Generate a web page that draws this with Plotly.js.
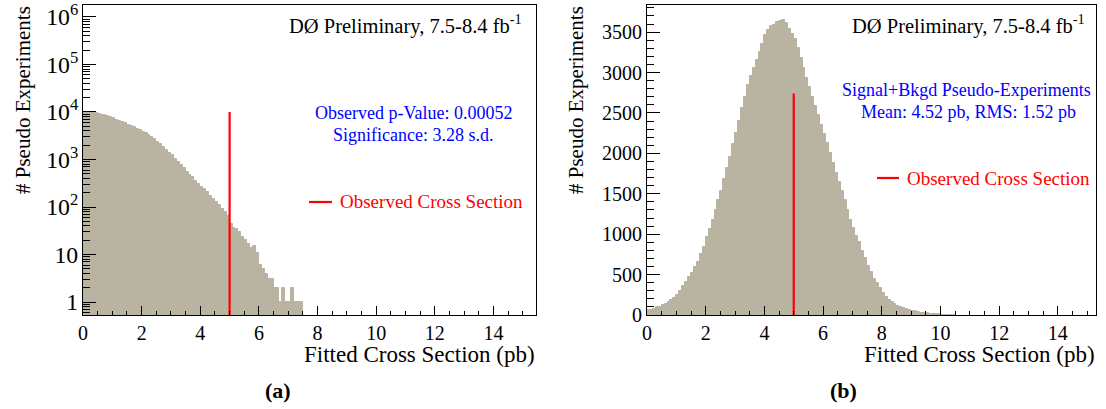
<!DOCTYPE html>
<html>
<head>
<meta charset="utf-8">
<script src="https://cdn.plot.ly/plotly-3.0.1.min.js"></script>
</head>
<body style="margin:0">
<div id="plot"></div>
<script>
// Bin width of the histograms (pb), first bin starts at 0
const binWidth = 0.1;

// (a) background-only pseudo-experiments, counts per 0.1 pb bin from 0
const bkgCounts = [
  9600, 9550, 9500, 9400, 9300, 9100, 8800, 8500, 8100, 7700,
  7300, 6900, 6500, 6100, 5750, 5400, 5100, 4750, 4450, 4100,
  3800, 3550, 3250, 2950, 2650, 2350, 2100, 1850, 1600, 1400,
  1220, 1050, 900, 780, 660, 560, 480, 420, 360, 310,
  270, 240, 205, 175, 150, 125, 108, 92, 80, 66,
  45, 36, 34, 30, 24, 20, 17, 14, 15, 11,
  6, 5, 4, 3, 3, 2, 2, 1, 2, 1,
  1, 2, 1, 1, 1
];

// (b) signal+background pseudo-experiments, counts per 0.1 pb bin from 0
const sbCounts = [
  60, 68, 80, 95, 105, 120, 135, 160, 180, 205,
  250, 300, 360, 410, 470, 520, 590, 660, 750, 840,
  960, 1070, 1180, 1300, 1420, 1540, 1680, 1820, 1960, 2110,
  2250, 2400, 2560, 2700, 2850, 2960, 3060, 3160, 3250, 3350,
  3470, 3520, 3570, 3590, 3620, 3640, 3650, 3610, 3540, 3480,
  3420, 3300, 3180, 3050, 2930, 2820, 2700, 2580, 2470, 2350,
  2240, 2130, 2010, 1880, 1760, 1640, 1530, 1420, 1300, 1180,
  1080, 980, 900, 790, 700, 610, 530, 450, 390, 330,
  270, 225, 185, 160, 135, 115, 100, 85, 72, 62,
  52, 44, 36, 30, 24, 19, 15, 12, 9, 7,
  5, 4, 3, 2, 1
];

// Observed cross section marker
const observedXs = [5.0, 5.0];
const obsLineLeftY = [0.3, 10000];
const obsLineRightY = [0, 2740];

// Tick labels of the axes
const xTickVals = [0, 2, 4, 6, 8, 10, 12, 14];

const histColor = '#b9b4a2';
const LS = 'Liberation Serif';

function fnt(size, color) { return {family: LS, size: size, color: color || '#000'}; }

const data = [
  {type: 'bar', x0: binWidth / 2, dx: binWidth, y: bkgCounts, width: binWidth,
   marker: {color: histColor, line: {width: 1, color: histColor}}, xaxis: 'x', yaxis: 'y', hoverinfo: 'skip'},
  {type: 'scatter', mode: 'lines', x: observedXs, y: obsLineLeftY,
   line: {color: '#ff0000', width: 2.2}, xaxis: 'x', yaxis: 'y'},
  {type: 'bar', x0: binWidth / 2, dx: binWidth, y: sbCounts, width: binWidth,
   marker: {color: histColor, line: {width: 1, color: histColor}}, xaxis: 'x2', yaxis: 'y2', hoverinfo: 'skip'},
  {type: 'scatter', mode: 'lines', x: observedXs, y: obsLineRightY,
   line: {color: '#ff0000', width: 2.2}, xaxis: 'x2', yaxis: 'y2'}
];

function xAxis(domain, range, anchor) {
  return {
    domain: domain, range: range, anchor: anchor,
    tickmode: 'array', tickvals: xTickVals,
    ticks: 'inside', ticklen: 9, tickwidth: 1, tickcolor: '#000',
    minor: {dtick: 0.5, ticks: 'inside', ticklen: 4, tickwidth: 1, tickcolor: '#000', showgrid: false},
    showline: true, linecolor: '#000', linewidth: 1, mirror: true,
    showgrid: false, zeroline: false, tickfont: fnt(20)
  };
}

const layout = {
  width: 1106, height: 409,
  margin: {l: 0, r: 0, t: 0, b: 0},
  paper_bgcolor: '#fff', plot_bgcolor: '#fff',
  showlegend: false, bargap: 0,
  xaxis: xAxis([83 / 1106, 536 / 1106], [0, 15.45], 'y'),
  yaxis: {
    domain: [94 / 409, 404 / 409], type: 'log', range: [-0.27, 6.25], anchor: 'x',
    dtick: 1, exponentformat: 'power',
    ticks: 'inside', ticklen: 13, tickwidth: 1, tickcolor: '#000',
    minor: {dtick: 'D1', ticks: 'inside', ticklen: 7, tickwidth: 1, tickcolor: '#000', showgrid: false},
    showline: true, linecolor: '#000', linewidth: 1, mirror: true,
    showgrid: false, zeroline: false, tickfont: fnt(19)
  },
  xaxis2: xAxis([647 / 1106, 1096 / 1106], [0, 15.3], 'y2'),
  yaxis2: {
    domain: [94 / 409, 404 / 409], range: [0, 3835], anchor: 'x2',
    dtick: 500, tick0: 0,
    ticks: 'inside', ticklen: 13, tickwidth: 1, tickcolor: '#000',
    minor: {dtick: 100, ticks: 'inside', ticklen: 7, tickwidth: 1, tickcolor: '#000', showgrid: false},
    showline: true, linecolor: '#000', linewidth: 1, mirror: true,
    showgrid: false, zeroline: false, tickfont: fnt(20)
  },
  shapes: [
    {type: 'line', xref: 'paper', yref: 'paper', x0: 309 / 1106, x1: 332 / 1106,
     y0: 1 - 202 / 409, y1: 1 - 202 / 409, line: {color: '#ff0000', width: 2.2}},
    {type: 'line', xref: 'paper', yref: 'paper', x0: 877 / 1106, x1: 899 / 1106,
     y0: 1 - 178 / 409, y1: 1 - 178 / 409, line: {color: '#ff0000', width: 2.2}}
  ],
  annotations: []
};

function ann(text, x, y, font, extra) {
  const a = {
    text: text, xref: 'paper', yref: 'paper', x: x / 1106, y: 1 - y / 409,
    showarrow: false, xanchor: 'center', yanchor: 'middle', font: font
  };
  return Object.assign(a, extra || {});
}

const A = layout.annotations;
A.push(ann('DØ Preliminary, 7.5-8.4 fb<sup>-1</sup>', 524, 24, fnt(20.5), {xanchor: 'right'}));
A.push(ann('DØ Preliminary, 7.5-8.4 fb<sup>-1</sup>', 1087, 24, fnt(20.5), {xanchor: 'right'}));
A.push(ann('Observed p-Value: 0.00052', 413, 113, fnt(18, '#0000ff')));
A.push(ann('Significance: 3.28 s.d.', 413, 135, fnt(18, '#0000ff')));
A.push(ann('Signal+Bkgd Pseudo-Experiments', 966, 90, fnt(18, '#0000ff')));
A.push(ann('Mean: 4.52 pb, RMS: 1.52 pb', 968, 112, fnt(18, '#0000ff')));
A.push(ann('Observed Cross Section', 338, 202, fnt(19, '#ff0000'), {xanchor: 'left'}));
A.push(ann('Observed Cross Section', 905, 178, fnt(19, '#ff0000'), {xanchor: 'left'}));
A.push(ann('Fitted Cross Section (pb)', 537, 354, fnt(23), {xanchor: 'right'}));
A.push(ann('Fitted Cross Section (pb)', 1097, 354, fnt(23), {xanchor: 'right'}));
A.push(ann('# Pseudo Experiments', 23, 4, fnt(21), {textangle: -90, yanchor: 'top'}));
A.push(ann('# Pseudo Experiments', 576, 4, fnt(21), {textangle: -90, yanchor: 'top'}));
A.push(ann('<b>(a)</b>', 278, 390, fnt(22)));
A.push(ann('<b>(b)</b>', 843, 390, fnt(22)));

Plotly.newPlot('plot', data, layout, {displayModeBar: false});
</script>
</body>
</html>
